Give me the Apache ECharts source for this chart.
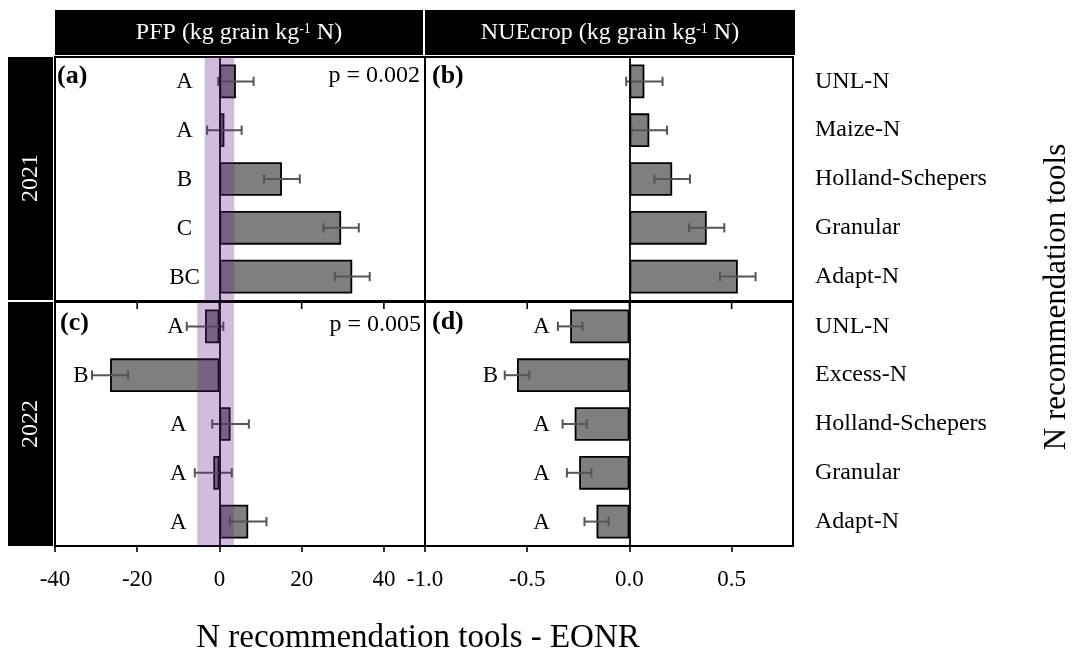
<!DOCTYPE html>
<html>
<head>
<meta charset="utf-8">
<title>N recommendation tools - EONR</title>
<script src="https://cdn.jsdelivr.net/npm/echarts@6/dist/echarts.min.js"></script>
<style>
  html, body { margin: 0; padding: 0; background: #fff; }
  #chart { width: 1078px; height: 654px; }
</style>
</head>
<body>
<div id="chart"></div>
<script>
// ---- data ----
const tools2021 = ['UNL-N', 'Maize-N', 'Holland-Schepers', 'Granular', 'Adapt-N'];
const tools2022 = ['UNL-N', 'Excess-N', 'Holland-Schepers', 'Granular', 'Adapt-N'];

// PFP difference from EONR (kg grain kg-1 N), mean and standard error
const pfp2021 = [4.0, 1.2, 15.2, 29.6, 32.3];
const pfp2021Se = [4.3, 4.2, 4.35, 4.3, 4.25];
const pfp2022 = [-3.5, -26.6, 2.7, -1.5, 7.0];
const pfp2022Se = [4.45, 4.4, 4.45, 4.5, 4.45];

// NUEcrop difference from EONR (kg grain kg-1 N), mean and standard error
const nue2021 = [0.073, 0.097, 0.209, 0.378, 0.53];
const nue2021Se = [0.089, 0.087, 0.087, 0.086, 0.087];
const nue2022 = [-0.29, -0.55, -0.268, -0.246, -0.161];
const nue2022Se = [0.06, 0.06, 0.059, 0.06, 0.059];

// mean separation letters
const pfpLetters2021 = ['A', 'A', 'B', 'C', 'BC'];
const pfpLetters2022 = ['A', 'B', 'A', 'A', 'A'];
const nueLetters2022 = ['A', 'B', 'A', 'A', 'A'];

// EONR PFP interval (shaded band)
const eonrBand2021 = [-3.6, 3.6];
const eonrBand2022 = [-5.4, 3.5];

const pValues = ['p = 0.002', 'p = 0.005'];
const panelTags = ['(a)', '(b)', '(c)', '(d)'];
const stripYears = ['2021', '2022'];

const pfpTicks = [-40, -20, 0, 20, 40];
const nueTicks = [-1.0, -0.5, 0.0, 0.5];

// ---- layout ----
const FONT = "'Liberation Serif', 'Times New Roman', serif";
const L1 = 55, W1 = 370, L2 = 425, W2 = 368;
const T1 = 57, T2 = 302, H = 244;
const grids = [
  { left: L1, top: T1, width: W1, height: H },
  { left: L2, top: T1, width: W2, height: H },
  { left: L1, top: T2, width: W1, height: H },
  { left: L2, top: T2, width: W2, height: H }
];

// every panel has a bottom axis; only the lower row prints ticks and numbers
function xAxisFor(i) {
  const pfp = i % 2 === 0;
  const bottom = i >= 2;
  const ticks = pfp ? pfpTicks : nueTicks;
  return {
    type: 'value', gridIndex: i, position: 'bottom',
    min: pfp ? -40 : -1.0, max: pfp ? 50 : 0.8, interval: pfp ? 20 : 0.5,
    axisLine: { show: false },
    splitLine: { show: false },
    axisTick: {
      show: bottom, length: 6, customValues: ticks,
      lineStyle: { color: '#000', width: 1.6 }
    },
    axisLabel: {
      show: bottom, customValues: ticks,
      margin: 22, color: '#000', fontFamily: FONT, fontSize: 23,
      formatter: v => pfp ? String(Math.round(v)) : Number(v).toFixed(1)
    },
    z: 8
  };
}

function yAxisFor(i) {
  const right = i % 2 === 1;
  return {
    type: 'category', gridIndex: i, inverse: true,
    data: i < 2 ? tools2021 : tools2022,
    position: right ? 'right' : 'left',
    axisLine: { show: false }, axisTick: { show: false }, splitLine: { show: false },
    axisLabel: { show: right, margin: 22, color: '#000', fontFamily: FONT, fontSize: 24 }
  };
}

function barSeries(i, values) {
  return {
    type: 'bar', xAxisIndex: i, yAxisIndex: i, data: values, barWidth: '69%',
    itemStyle: { color: '#7f7f7f', borderColor: '#000', borderWidth: 1.8 },
    silent: true, z: 2,
    markLine: {
      silent: true, symbol: 'none', label: { show: false },
      lineStyle: { color: '#000', width: 1.8, type: 'solid' },
      data: [{ xAxis: 0 }]
    }
  };
}

function errorSeries(i, values, se) {
  const data = values.map((v, k) => [k, v - se[k], v + se[k]]);
  return {
    type: 'custom', xAxisIndex: i, yAxisIndex: i, data, silent: true, z: 3,
    encode: { x: [1, 2], y: 0 },
    renderItem(params, api) {
      const k = api.value(0);
      const a = api.coord([api.value(1), k]);
      const b = api.coord([api.value(2), k]);
      const h = api.size([0, 1])[1] * 0.095;
      const st = { stroke: '#555555', lineWidth: 2 };
      return {
        type: 'group', children: [
          { type: 'line', shape: { x1: a[0], y1: a[1], x2: b[0], y2: b[1] }, style: st },
          { type: 'line', shape: { x1: a[0], y1: a[1] - h, x2: a[0], y2: a[1] + h }, style: st },
          { type: 'line', shape: { x1: b[0], y1: b[1] - h, x2: b[0], y2: b[1] + h }, style: st }
        ]
      };
    }
  };
}

// ticks of the upper row's scale, hanging just below the row boundary
function rowTickSeries(i, ticks) {
  return {
    type: 'custom', xAxisIndex: i, yAxisIndex: i, data: ticks.map(v => [v, 0]),
    silent: true, z: 9,
    encode: { x: 0, y: 1 },
    renderItem(params, api) {
      const cs = params.coordSys;
      const x = api.coord([api.value(0), 0])[0];
      return {
        type: 'rect',
        shape: { x: x - 0.8, y: cs.y, width: 1.6, height: 7 },
        style: { fill: '#000' }
      };
    }
  };
}

// letters sit at a common column, pushed left of any error bar that reaches it
function letterSeries(i, values, se, letters, anchor, gap) {
  const data = values.map((v, k) => [k, Math.min(anchor, v - se[k] - gap)]);
  return {
    type: 'custom', xAxisIndex: i, yAxisIndex: i, data, silent: true, z: 4,
    encode: { x: 1, y: 0 },
    renderItem(params, api) {
      const k = api.value(0);
      const p = api.coord([api.value(1), k]);
      return {
        type: 'text', x: p[0], y: p[1] + 1,
        style: {
          text: letters[k], fill: '#000', font: '23px ' + FONT,
          align: 'center', verticalAlign: 'middle',
          textAlign: 'center', textVerticalAlign: 'middle'
        }
      };
    }
  };
}

function bandSeries(i, band) {
  return {
    type: 'custom', xAxisIndex: i, yAxisIndex: i, data: [[band[0], band[1]]], silent: true, z: 6,
    encode: { x: [0, 1] },
    renderItem(params, api) {
      const cs = params.coordSys;
      const x0 = api.coord([api.value(0), 0])[0];
      const x1 = api.coord([api.value(1), 0])[0];
      return {
        type: 'rect',
        shape: { x: x0, y: cs.y, width: x1 - x0, height: cs.height },
        style: { fill: 'rgba(104, 34, 139, 0.3)' }
      };
    }
  };
}

function txt(x, y, text, opts) {
  return Object.assign({
    type: 'text', x, y, silent: true,
    style: Object.assign({
      text, fill: '#000', font: '22px ' + FONT,
      align: 'left', verticalAlign: 'middle',
      textAlign: 'left', textVerticalAlign: 'middle'
    }, opts.style || {})
  }, opts.el || {});
}

function stripTitle(cx, label) {
  return {
    type: 'text', x: cx, y: 33, silent: true, z: 11,
    style: {
      text: '{m|' + label + ' (kg grain kg}{s|-1}{m| N)}',
      align: 'center', verticalAlign: 'middle',
      textAlign: 'center', textVerticalAlign: 'middle',
      rich: {
        m: { fill: '#fff', fontFamily: FONT, fontSize: 24, lineHeight: 28 },
        s: { fill: '#fff', fontFamily: FONT, fontSize: 14, lineHeight: 14, verticalAlign: 'top', padding: [3, 0, 0, 0] }
      }
    }
  };
}

const graphics = [
  // column strips
  { type: 'rect', shape: { x: 55, y: 10, width: 368, height: 45 }, style: { fill: '#000' }, z: 10 },
  { type: 'rect', shape: { x: 425, y: 10, width: 370, height: 45 }, style: { fill: '#000' }, z: 10 },
  stripTitle(239, 'PFP'),
  stripTitle(610, 'NUEcrop'),
  // row strips
  { type: 'rect', shape: { x: 8, y: 57, width: 45, height: 243 }, style: { fill: '#000' }, z: 10 },
  { type: 'rect', shape: { x: 8, y: 302, width: 45, height: 244 }, style: { fill: '#000' }, z: 10 },
  txt(31, 178, stripYears[0], { el: { rotation: Math.PI / 2, z: 11 }, style: { fill: '#fff', font: '24px ' + FONT, align: 'center', textAlign: 'center' } }),
  txt(31, 424, stripYears[1], { el: { rotation: Math.PI / 2, z: 11 }, style: { fill: '#fff', font: '24px ' + FONT, align: 'center', textAlign: 'center' } }),
  // panel tags
  txt(57, 76, panelTags[0], { el: { z: 11 }, style: { font: 'bold 26px ' + FONT } }),
  txt(432, 76, panelTags[1], { el: { z: 11 }, style: { font: 'bold 26px ' + FONT } }),
  txt(60, 323, panelTags[2], { el: { z: 11 }, style: { font: 'bold 26px ' + FONT } }),
  txt(432, 322, panelTags[3], { el: { z: 11 }, style: { font: 'bold 26px ' + FONT } }),
  // p values
  txt(420, 76, pValues[0], { el: { z: 11 }, style: { font: '24px ' + FONT, align: 'right', textAlign: 'right' } }),
  txt(421, 325, pValues[1], { el: { z: 11 }, style: { font: '24px ' + FONT, align: 'right', textAlign: 'right' } }),
  // axis titles
  txt(418, 638, 'N recommendation tools - EONR', { el: { z: 11 }, style: { font: '33px ' + FONT, align: 'center', textAlign: 'center' } }),
  txt(1057, 297, 'N recommendation tools', { el: { rotation: Math.PI / 2, z: 11 }, style: { font: '31px ' + FONT, align: 'center', textAlign: 'center' } })
];

const option = {
  animation: false,
  backgroundColor: '#fff',
  grid: grids.map(g => Object.assign({ show: true, borderColor: '#000', borderWidth: 2, backgroundColor: 'transparent', containLabel: false }, g)),
  xAxis: [0, 1, 2, 3].map(xAxisFor),
  yAxis: [0, 1, 2, 3].map(yAxisFor),
  series: [
    barSeries(0, pfp2021), errorSeries(0, pfp2021, pfp2021Se),
    letterSeries(0, pfp2021, pfp2021Se, pfpLetters2021, -8.5, 2.7), bandSeries(0, eonrBand2021),
    barSeries(1, nue2021), errorSeries(1, nue2021, nue2021Se),
    barSeries(2, pfp2022), errorSeries(2, pfp2022, pfp2022Se),
    letterSeries(2, pfp2022, pfp2022Se, pfpLetters2022, -10, 2.7), bandSeries(2, eonrBand2022),
    rowTickSeries(2, pfpTicks),
    barSeries(3, nue2022), errorSeries(3, nue2022, nue2022Se),
    letterSeries(3, nue2022, nue2022Se, nueLetters2022, -0.43, 0.07),
    rowTickSeries(3, nueTicks)
  ],
  graphic: { elements: graphics }
};

const chart = echarts.init(document.getElementById('chart'), null, { renderer: 'canvas' });
chart.setOption(option);
</script>
</body>
</html>
